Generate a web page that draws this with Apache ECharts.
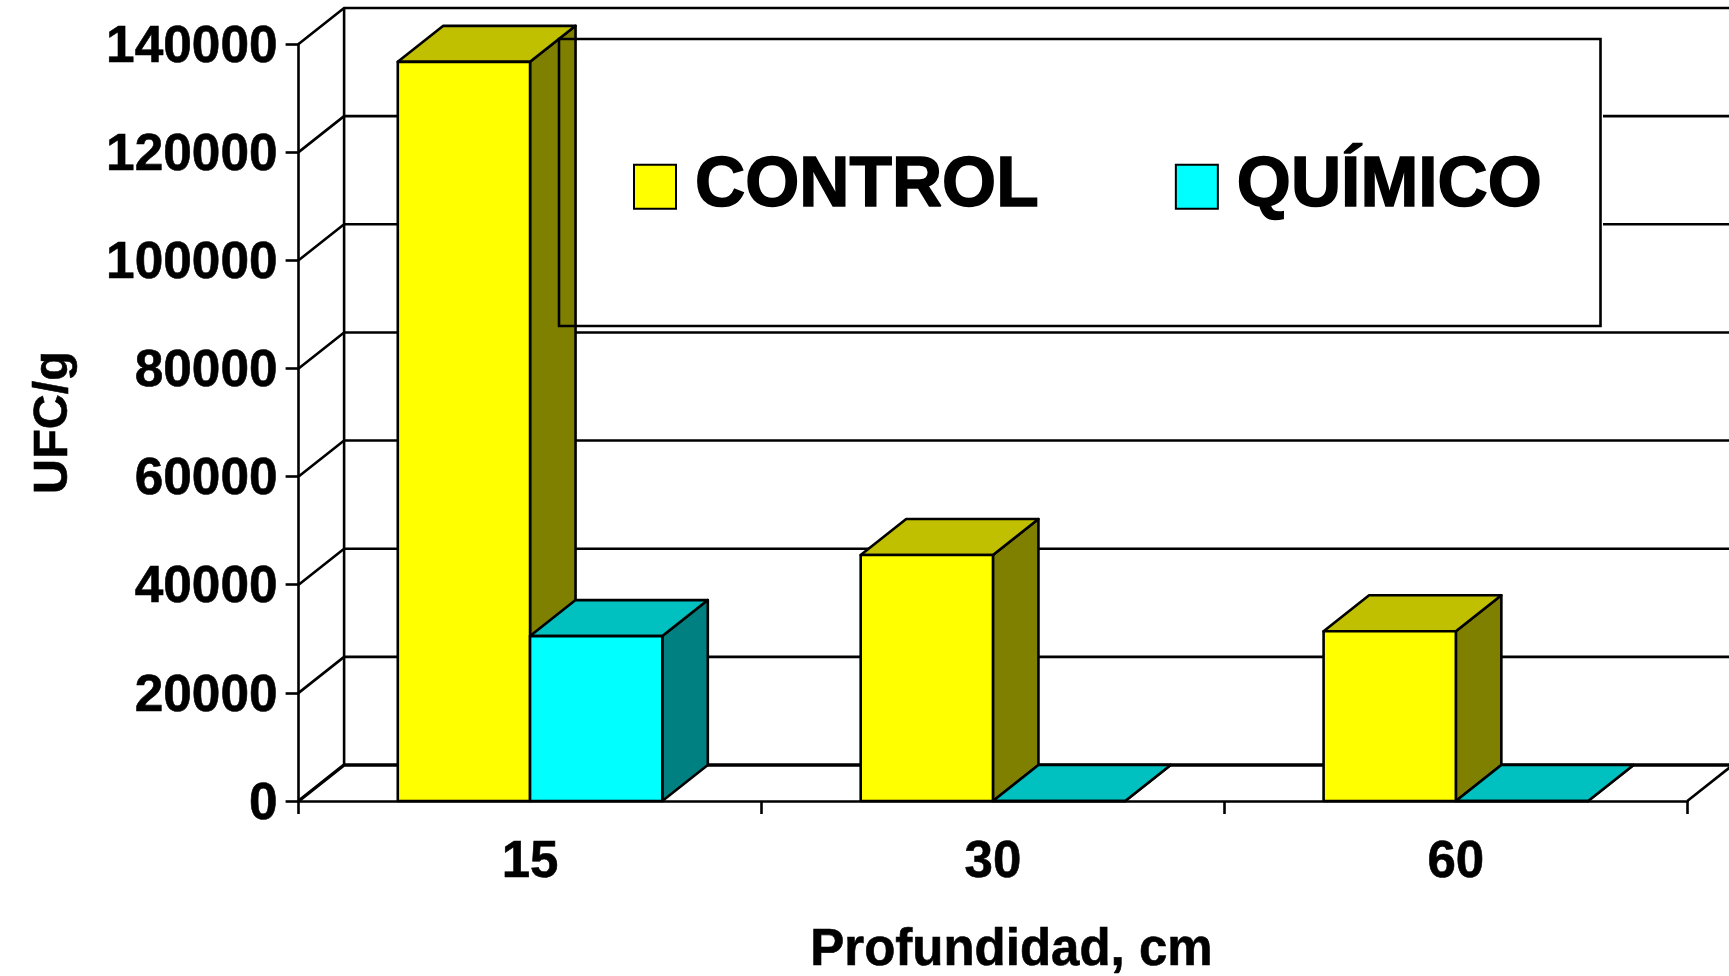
<!DOCTYPE html>
<html>
<head>
<meta charset="utf-8">
<style>html,body{margin:0;padding:0;background:#fff}#c{width:1729px;height:976px}</style>
<script src="https://cdn.jsdelivr.net/npm/echarts@6/dist/echarts.min.js"></script>
</head>
<body>
<div id="c"></div>
<script>
const categories = ['15', '30', '60'];
const control = [136700, 45500, 31400];
const quimico = [30500, 0, 0];
const yTicks = [0, 20000, 40000, 60000, 80000, 100000, 120000, 140000];

const FONT = '"Liberation Sans", Arial, sans-serif';
const DX = 45.5, DY = 36;
const LINE = '#000';
const LW = 2.6;

function wallItem(params, api) {
  const cs = params.coordSys;
  const v = api.value(1);
  const y = api.coord([0, v])[1];
  const x0 = cs.x, x1 = cs.x + cs.width;
  const children = [{
    type: 'polyline',
    shape: { points: [[x0, y], [x0 + DX, y - DY], [x1 + DX, y - DY]] },
    style: { stroke: LINE, lineWidth: v === 0 ? 3.5 : LW, fill: null }
  }];
  if (v === 0) {
    const yTop = api.coord([0, yTicks[yTicks.length - 1]])[1];
    children.push({
      type: 'line', shape: { x1: x0 + DX, y1: y - DY, x2: x0 + DX, y2: yTop - DY },
      style: { stroke: LINE, lineWidth: LW }
    });
    children.push({
      type: 'line', shape: { x1: x1, y1: y, x2: x1 + DX, y2: y - DY },
      style: { stroke: LINE, lineWidth: LW }
    });
  }
  return { type: 'group', children };
}

function barItem(slot, front, top, side) {
  return function (params, api) {
    const c = api.value(0);
    const base = api.coord([c, 0]);
    const peak = api.coord([c, api.value(1)]);
    const w = api.size([1, 0])[0] / 3.5;
    const l = base[0] + (slot - 1) * w, r = l + w;
    const yb = base[1], yt = peak[1];
    const s = { stroke: LINE, lineWidth: LW, lineJoin: 'round' };
    const poly = (points, fill) => ({ type: 'polygon', shape: { points }, style: Object.assign({ fill }, s) });
    return {
      type: 'group',
      children: [
        poly([[r, yb], [r + DX, yb - DY], [r + DX, yt - DY], [r, yt]], side),
        poly([[l, yt], [l + DX, yt - DY], [r + DX, yt - DY], [r, yt]], top),
        poly([[l, yb], [r, yb], [r, yt], [l, yt]], front)
      ]
    };
  };
}

const chart = echarts.init(document.getElementById('c'), null, { renderer: 'canvas' });
chart.setOption({
  animation: false,
  backgroundColor: '#fff',
  tooltip: { show: false },
  grid: { left: 298.6, right: 41.7, top: 44, bottom: 175, containLabel: false, outerBoundsMode: 'none' },
  xAxis: {
    type: 'category',
    data: categories,
    boundaryGap: true,
    z: 1,
    axisLine: { show: true, onZero: false, lineStyle: { color: LINE, width: LW } },
    axisTick: { show: true, alignWithLabel: false, length: 13, lineStyle: { color: LINE, width: LW } },
    axisLabel: { color: '#000', fontFamily: FONT, fontWeight: 'bold', fontSize: 51, margin: 36, textBorderColor: '#000', textBorderWidth: 0.6 },
    name: 'Profundidad, cm',
    nameLocation: 'middle',
    nameGap: 124,
    nameTextStyle: { color: '#000', fontFamily: FONT, fontWeight: 'bold', fontSize: 51, padding: [0, 0, 0, 37], textBorderColor: '#000', textBorderWidth: 0.6 }
  },
  yAxis: {
    type: 'value',
    min: 0,
    max: 140000,
    interval: 20000,
    z: 1,
    splitLine: { show: false },
    axisLine: { show: true, lineStyle: { color: LINE, width: LW } },
    axisTick: { show: true, length: 13, lineStyle: { color: LINE, width: LW } },
    axisLabel: { color: '#000', fontFamily: FONT, fontWeight: 'bold', fontSize: 51.4, margin: 21, verticalAlign: 'top', lineHeight: 7, formatter: v => String(v), textBorderColor: '#000', textBorderWidth: 0.6 },
    name: 'UFC/g',
    nameLocation: 'middle',
    nameGap: 220,
    nameRotate: 90,
    nameTextStyle: { color: '#000', fontFamily: FONT, fontWeight: 'bold', fontSize: 48.5, textBorderColor: '#000', textBorderWidth: 0.6 }
  },
  legend: {
    show: true,
    z: 20,
    left: 633,
    top: 151,
    padding: 0,
    orient: 'horizontal',
    itemWidth: 42,
    itemHeight: 44,
    itemGap: 135.5,
    icon: 'rect',
    selectedMode: false,
    data: ['CONTROL', 'QUÍMICO'],
    itemStyle: { borderColor: LINE, borderWidth: 2 },
    textStyle: { color: '#000', fontFamily: FONT, fontWeight: 'bold', fontSize: 69.5, padding: [0, 0, 0, 14], textBorderColor: '#000', textBorderWidth: 1.5 }
  },
  graphic: [
    { type: 'rect', z: 2, silent: true, shape: { x: 557, y: 37, width: 1046, height: 291 }, style: { fill: '#fff' } },
    { type: 'rect', z: 10, silent: true, shape: { x: 559, y: 39, width: 1041.5, height: 287 }, style: { fill: null, stroke: LINE, lineWidth: LW } }
  ],
  series: [
    {
      name: 'walls', type: 'custom', z: 1, silent: true,
      encode: { x: 0, y: 1 },
      data: yTicks.map(v => [0, v]),
      renderItem: wallItem
    },
    {
      name: 'CONTROL', type: 'custom', z: 3, silent: true,
      itemStyle: { color: '#FFFF00' },
      encode: { x: 0, y: 1 },
      data: control.map((v, i) => [i, v]),
      renderItem: barItem(0, '#FFFF00', '#C0C000', '#808000')
    },
    {
      name: 'QUÍMICO', type: 'custom', z: 4, silent: true,
      itemStyle: { color: '#00FFFF' },
      encode: { x: 0, y: 1 },
      data: quimico.map((v, i) => [i, v]),
      renderItem: barItem(1, '#00FFFF', '#00C0C0', '#008080')
    }
  ]
});
</script>
</body>
</html>
